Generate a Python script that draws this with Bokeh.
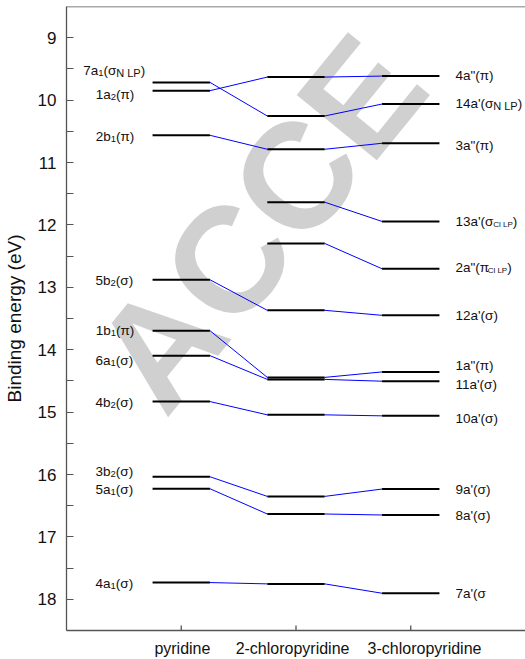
import math
from bokeh.plotting import figure
from bokeh.models import Range1d, FixedTicker, ColumnDataSource, Span
from bokeh.core.properties import value
from bokeh.embed import file_html
from bokeh.resources import INLINE

# ---------------- data ----------------
molecules = ["pyridine", "2-chloropyridine", "3-chloropyridine"]
mol_x = [1, 2, 3]

pyr_E = [9.716, 9.849, 10.564, 12.879, 13.695, 14.095, 14.831, 16.036, 16.228, 17.732]
pyr_labels = ["7a_{1}(σ_{N LP})", "1a_{2}(π)", "2b_{1}(π)", "5b_{2}(σ)", "1b_{1}(π)",
              "6a_{1}(σ)", "4b_{2}(σ)", "3b_{2}(σ)", "5a_{1}(σ)", "4a_{1}(σ)"]
pyr_label_E = [9.524, 9.908, 10.58, 12.884, 13.689, 14.18, 14.841, 15.956, 16.244, 17.743]

cl2_E = [9.631, 10.255, 10.788, 11.636, 12.297, 13.369, 14.444, 14.476, 15.044, 16.351, 16.633, 17.753]

cl3_E = [9.615, 10.063, 10.692, 11.945, 12.703, 13.449, 14.356, 14.505, 15.06, 16.233, 16.649, 17.903]
cl3_labels = ['4a"(π)', "14a'(σ_{N LP})", '3a"(π)', "13a'(σ_{Cl LP})", '2a"(π_{Cl LP})', "12a'(σ)",
              '1a"(π)', "11a'(σ)", "10a'(σ)", "9a'(σ)", "8a'(σ)", "7a'(σ"]
cl3_label_E = [9.604, 10.057, 10.724, 11.94, 12.687, 13.444, 14.255, 14.564, 15.097, 16.244, 16.66, 17.903]

# correlation pairs (index in left column, index in right column)
pyr_to_cl2 = [(0, 1), (1, 0), (2, 2), (3, 5), (4, 6), (5, 7), (6, 8), (7, 9), (8, 10), (9, 11)]
cl2_to_cl3 = [(0, 0), (1, 1), (2, 2), (3, 3), (4, 4), (5, 5), (6, 6), (7, 7), (8, 8), (9, 9), (10, 10), (11, 11)]

y_ticks = [9, 10, 11, 12, 13, 14, 15, 16, 17, 18]

watermark_letters = ["A", "C", "C", "E"]

# ---------------- style ----------------
HW = 0.25          # half width of a level bar (x units)
FONT = "Liberation Sans"
MAIN_FS = 13.5
AXIS_COL = "#555555"
TXT_COL = "#111111"
Y_TOP, Y_BOTTOM = 8.5, 18.5

p = figure(width=525, height=659, x_range=Range1d(0, 4), y_range=Range1d(Y_BOTTOM, Y_TOP),
           output_backend="svg", toolbar_location=None,
           min_border_left=64, min_border_right=0, min_border_top=6, min_border_bottom=28)
p.grid.visible = False
p.outline_line_color = None
p.background_fill_color = "white"
p.border_fill_color = "white"

# watermark (rotated letters along a diagonal)
theta = math.radians(50.9)
em = 150.0
adv = [0.0, 0.722, 0.722, 0.694]
wdx, wdy, acc = [], [], 0.0
for a in adv:
    acc += a * em
    wdx.append(acc * math.cos(theta))
    wdy.append(-acc * math.sin(theta))
p.text(x=[0.81] * 4, y=[13.93] * 4, text=watermark_letters, angle=theta,
       x_offset=wdx, y_offset=wdy,
       text_font=value(FONT), text_font_size="150px", text_font_style="bold",
       text_color="#bcbcbc", text_alpha=0.7, text_baseline="middle", text_align="center")

# levels
cols = [pyr_E, cl2_E, cl3_E]
lx0, lx1, ly = [], [], []
for xc, Es in zip(mol_x, cols):
    for e in Es:
        lx0.append(xc - HW)
        lx1.append(xc + HW)
        ly.append(e)

# connectors
cx0, cx1, cy0, cy1 = [], [], [], []
for pairs, left, right, xl in [(pyr_to_cl2, pyr_E, cl2_E, mol_x[0]), (cl2_to_cl3, cl2_E, cl3_E, mol_x[1])]:
    for i, j in pairs:
        cx0.append(xl + HW)
        cx1.append(xl + 1 - HW)
        cy0.append(left[i])
        cy1.append(right[j])

p.segment(x0=cx0, y0=cy0, x1=cx1, y1=cy1, line_color="#0000ff", line_width=1)
p.segment(x0=lx0, y0=ly, x1=lx1, y1=ly, line_color="#000000", line_width=2)

# labels with subscripts
CW = {'a': .556, 'b': .556, '(': .333, ')': .333, "'": .191, '"': .355, 'σ': .6, 'π': .58,
      'N': .722, 'L': .556, 'P': .667, 'C': .722, 'l': .222, ' ': .278}


def width(s, fs):
    return sum(CW.get(c, .556) for c in s) * fs


def parse(s):
    segs, buf, i = [], "", 0
    while i < len(s):
        if s[i] == "_" and s[i + 1] == "{":
            if buf:
                segs.append((buf, False))
                buf = ""
            j = s.index("}", i)
            segs.append((s[i + 2:j], True))
            i = j + 1
        else:
            buf += s[i]
            i += 1
    if buf:
        segs.append((buf, False))
    return segs


def sub_style(t):
    if "Cl" in t:
        return 8.0, 3.0
    if "LP" in t:
        return 11.0, 2.5
    return 9.5, 2.5


tx, ty, tt, tdx, tdy, tfs = [], [], [], [], [], []


def add_label(label, xa, ya, align):
    segs = parse(label)
    parts = []
    for t, sub in segs:
        if sub:
            fs, dy = sub_style(t)
            parts.append((t, fs, dy))
        else:
            parts.append((t, MAIN_FS, 0.0))
    total = sum(width(t, fs) for t, fs, _ in parts)
    off = -total / 2 if align == "center" else 0.0
    for t, fs, dy in parts:
        tx.append(xa)
        ty.append(ya)
        tt.append(t)
        tdx.append(off)
        tdy.append(dy)
        tfs.append("%.1fpx" % fs)
        off += width(t, fs)


for lab, e in zip(pyr_labels, pyr_label_E):
    add_label(lab, mol_x[0] - 0.584, e, "center")
for lab, e in zip(cl3_labels, cl3_label_E):
    add_label(lab, mol_x[2] + 0.39, e, "left")

src = ColumnDataSource(dict(x=tx, y=ty, text=tt, dx=tdx, dy=tdy, fsz=tfs))
p.text(x="x", y="y", text="text", x_offset="dx", y_offset="dy", text_font_size="fsz",
       source=src, text_font=value(FONT), text_color=TXT_COL,
       text_baseline="alphabetic", text_align="left")

# top frame line
p.add_layout(Span(location=Y_TOP, dimension="width", line_color=AXIS_COL, line_width=1.3))

# y axis
p.yaxis.ticker = FixedTicker(ticks=y_ticks, minor_ticks=[t + 0.5 for t in y_ticks[:-1]])
p.yaxis.axis_label = "Binding energy (eV)"
p.yaxis.axis_label_text_font = FONT
p.yaxis.axis_label_text_font_size = "19px"
p.yaxis.axis_label_text_font_style = "normal"
p.yaxis.axis_label_text_color = TXT_COL
p.yaxis.axis_label_standoff = 10
p.yaxis.major_label_text_font_size = "17px"
p.yaxis.major_label_text_font = FONT
p.yaxis.major_label_text_color = TXT_COL
p.yaxis.major_label_standoff = 10
p.yaxis.major_tick_in = 7
p.yaxis.major_tick_out = 0
p.yaxis.minor_tick_in = 7
p.yaxis.minor_tick_out = 0
p.yaxis.axis_line_color = AXIS_COL
p.yaxis.axis_line_width = 1.3
p.yaxis.major_tick_line_color = AXIS_COL
p.yaxis.minor_tick_line_color = AXIS_COL

# x axis: names (not exactly centred on the molecule positions, as in the original)
name_shift = [0.01, -0.03, 0.12]
name_pos = [xv + s for xv, s in zip(mol_x, name_shift)]
ov = {}
for pos, name in zip(name_pos, molecules):
    ov[pos] = name
    ov[str(pos)] = name
xa = p.xaxis[0]
xa.ticker = FixedTicker(ticks=name_pos)
xa.major_label_overrides = ov
xa.major_label_text_font = FONT
xa.major_label_text_font_size = "16px"
xa.major_label_text_line_height = 0.7
xa.major_label_text_color = TXT_COL
xa.major_label_standoff = 9
xa.major_tick_in = 0
xa.major_tick_out = 0
xa.major_tick_line_color = None
xa.minor_tick_line_color = None
xa.axis_line_color = AXIS_COL
xa.axis_line_width = 1.3

# small inward tick marks at the molecule positions
tick_len = 5 / 62.5
p.segment(x0=mol_x, x1=mol_x, y0=[Y_BOTTOM] * 3, y1=[Y_BOTTOM - tick_len] * 3,
          line_color=AXIS_COL, line_width=1.3)

open("out.html", "w").write(file_html(p, INLINE))
